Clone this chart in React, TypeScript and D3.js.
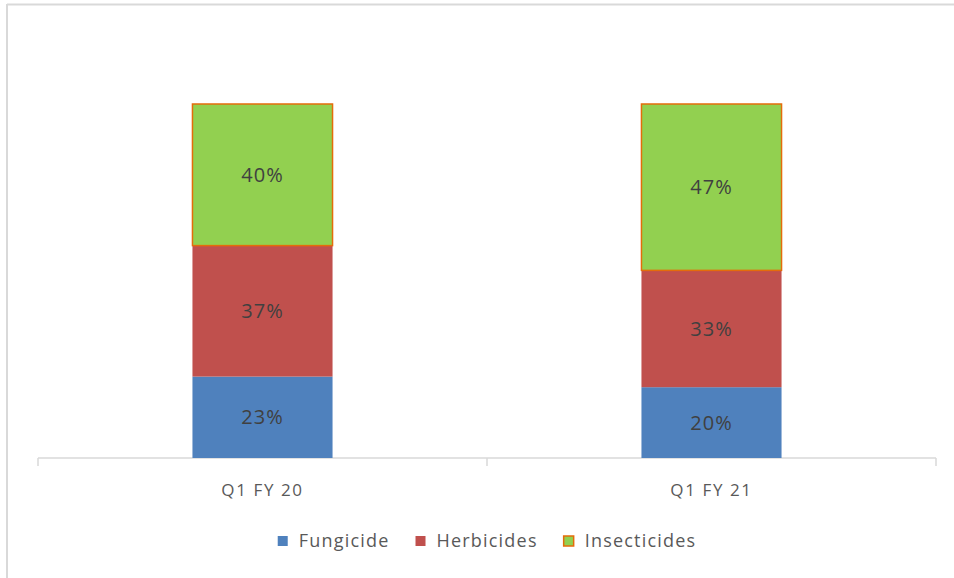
import React, { useRef, useEffect } from "react";
import * as d3 from "d3";

const categories = ["Q1 FY 20", "Q1 FY 21"];
const seriesNames = ["Fungicide", "Herbicides", "Insecticides"];
const fungicide = [23, 20];
const herbicides = [37, 33];
const insecticides = [40, 47];
const seriesColors = ["#4F81BD", "#C0504D", "#92D050"];
const seriesStrokes = ["none", "none", "#E46C0A"];

const W = 954;
const H = 578;
const margin = { left: 38, right: 18, top: 104, bottom: 120 };
const font = "'Open Sans', 'Noto Sans', sans-serif";

export default function App() {
  const ref = useRef<SVGSVGElement>(null);

  useEffect(() => {
    if (!ref.current) return;
    const svg = d3.select(ref.current);
    svg.selectAll("*").remove();

    const values = [fungicide, herbicides, insecticides];
    const rows = categories.map((c, i) => {
      const r: any = { cat: c };
      seriesNames.forEach((s, j) => (r[s] = values[j][i]));
      return r;
    });
    const stacked = d3.stack().keys(seriesNames)(rows);

    const x = d3
      .scaleBand()
      .domain(categories)
      .range([margin.left, W - margin.right])
      .paddingInner(0.688)
      .paddingOuter(0.344);
    const y = d3
      .scaleLinear()
      .domain([0, 100])
      .range([H - margin.bottom, margin.top]);

    // chart frame (only top and left edges show)
    svg.append("line").attr("x1", 7).attr("x2", W).attr("y1", 4.5).attr("y2", 4.5)
      .attr("stroke", "#d9d9d9").attr("stroke-width", 2);
    svg.append("line").attr("x1", 7).attr("x2", 7).attr("y1", 4).attr("y2", H)
      .attr("stroke", "#d9d9d9").attr("stroke-width", 2);

    const baseY = y(0);
    const x0 = margin.left;
    const x1 = W - margin.right;

    // x axis
    const ax = svg.append("g");
    ax.append("line").attr("x1", x0).attr("x2", x1).attr("y1", baseY).attr("y2", baseY)
      .attr("stroke", "#d9d9d9").attr("stroke-width", 1.5);
    const tickXs = d3.range(categories.length + 1).map((i) => x0 + i * (x1 - x0) / categories.length);
    ax.selectAll(".tk").data(tickXs).join("line")
      .attr("x1", (d) => d).attr("x2", (d) => d)
      .attr("y1", baseY).attr("y2", baseY + 8)
      .attr("stroke", "#d9d9d9").attr("stroke-width", 1.5);
    ax.selectAll(".lbl").data(categories).join("text")
      .attr("x", (d) => (x(d) as number) + x.bandwidth() / 2)
      .attr("y", baseY + 38)
      .attr("text-anchor", "middle")
      .attr("font-family", font)
      .attr("font-size", 17)
      .attr("letter-spacing", 1.6)
      .attr("fill", "#595959")
      .text((d) => d);

    // bars
    stacked.forEach((layer, j) => {
      const g = svg.append("g");
      g.selectAll("rect").data(layer).join("rect")
        .attr("x", (d: any) => x(d.data.cat) as number)
        .attr("width", x.bandwidth())
        .attr("y", (d) => y(d[1]))
        .attr("height", (d) => y(d[0]) - y(d[1]))
        .attr("fill", seriesColors[j])
        .attr("stroke", seriesStrokes[j])
        .attr("stroke-width", 1.5);
      g.selectAll("text").data(layer).join("text")
        .attr("x", (d: any) => (x(d.data.cat) as number) + x.bandwidth() / 2)
        .attr("y", (d) => (y(d[0]) + y(d[1])) / 2)
        .attr("dy", "0.35em")
        .attr("text-anchor", "middle")
        .attr("font-family", font)
        .attr("font-size", 20)
        .attr("font-weight", 500)
        .attr("letter-spacing", 1)
        .attr("fill", "#404040")
        .text((d) => `${d[1] - d[0]}%`);
    });

    // legend
    const lg = svg.append("g");
    const items = lg.selectAll("g").data(seriesNames).join("g");
    items.append("rect")
      .attr("width", 10).attr("height", 10).attr("y", -5)
      .attr("fill", (_, i) => seriesColors[i])
      .attr("stroke", (_, i) => seriesStrokes[i])
      .attr("stroke-width", 1.5);
    const texts = items.append("text")
      .attr("x", 21).attr("dy", "0.35em")
      .attr("font-family", font).attr("font-size", 18)
      .attr("letter-spacing", 1.2).attr("fill", "#595959")
      .text((d) => d);
    const widths = texts.nodes().map((n) => 21 + (n as SVGTextElement).getComputedTextLength());
    const gap = 26;
    const total = d3.sum(widths) + gap * (widths.length - 1);
    let cx = (x0 + x1) / 2 - total / 2;
    items.attr("transform", (_, i) => {
      const t = `translate(${cx},541)`;
      cx += widths[i] + gap;
      return t;
    });
  }, []);

  return (
    <svg
      ref={ref}
      width={W}
      height={H}
      style={{ position: "absolute", left: 0, top: 0, background: "#fff" }}
    />
  );
}
